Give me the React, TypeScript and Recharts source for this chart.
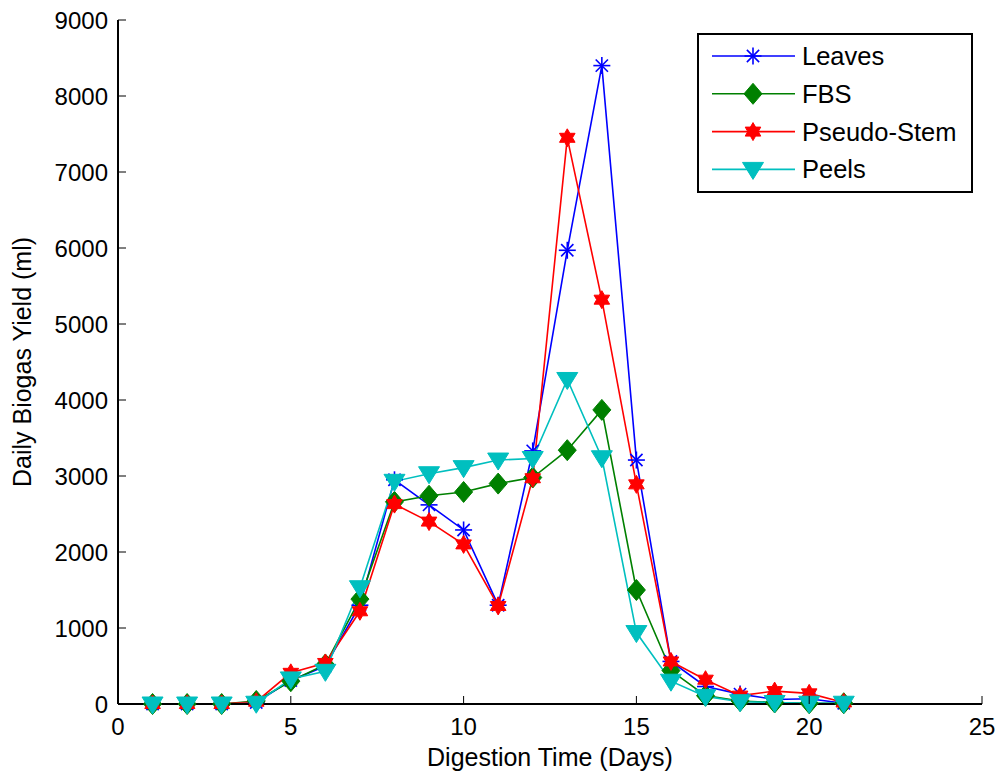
import React from "react";
import { LineChart, Line, XAxis, YAxis, Legend } from "recharts";

// Daily biogas yield (ml) per substrate over the digestion period
const days = [1, 2, 3, 4, 5, 6, 7, 8, 9, 10, 11, 12, 13, 14, 15, 16, 17, 18, 19, 20, 21];
const leaves = [0, 0, 0, 20, 310, 500, 1300, 2950, 2620, 2290, 1300, 3330, 5970, 8400, 3210, 560, 230, 130, 60, 70, 10];
const fbs = [0, 0, 0, 40, 300, 520, 1380, 2660, 2740, 2790, 2900, 2980, 3340, 3870, 1500, 440, 110, 40, 20, 10, 10];
const pseudoStem = [0, 0, 0, 30, 410, 540, 1220, 2630, 2400, 2100, 1290, 2970, 7450, 5320, 2890, 560, 320, 110, 170, 140, 20];
const peels = [0, 0, 0, 10, 330, 430, 1530, 2930, 3030, 3110, 3210, 3230, 4270, 3240, 940, 300, 100, 30, 20, 10, 10];

const xTicks = [0, 5, 10, 15, 20, 25];
const yTicks = [0, 1000, 2000, 3000, 4000, 5000, 6000, 7000, 8000, 9000];

const data = days.map((d, i) => ({
  day: d,
  leaves: leaves[i],
  fbs: fbs[i],
  pseudoStem: pseudoStem[i],
  peels: peels[i],
}));

const FONT = "'Liberation Sans', Arial, sans-serif";
const BLUE = "#0000ff";
const GREEN = "#008000";
const RED = "#ff0000";
const CYAN = "#00bfbf";

type MarkerKind = "star" | "diamond" | "hexagram" | "triangle";

function Marker({ kind, cx, cy, color }: { kind: MarkerKind; cx: number; cy: number; color: string }) {
  if (kind === "star") {
    const r = 8.5;
    const d = r * 0.72;
    return (
      <g stroke={color} strokeWidth={1.6}>
        <line x1={cx - r} y1={cy} x2={cx + r} y2={cy} />
        <line x1={cx} y1={cy - r} x2={cx} y2={cy + r} />
        <line x1={cx - d} y1={cy - d} x2={cx + d} y2={cy + d} />
        <line x1={cx - d} y1={cy + d} x2={cx + d} y2={cy - d} />
      </g>
    );
  }
  if (kind === "diamond") {
    const w = 9;
    const h = 10.5;
    return (
      <polygon
        points={`${cx},${cy - h} ${cx + w},${cy} ${cx},${cy + h} ${cx - w},${cy}`}
        fill={color}
        stroke={color}
        strokeWidth={1}
      />
    );
  }
  if (kind === "hexagram") {
    const ro = 9;
    const ri = 5.2;
    const pts: string[] = [];
    for (let k = 0; k < 12; k++) {
      const a = (Math.PI / 6) * k - Math.PI / 2;
      const r = k % 2 === 0 ? ro : ri;
      pts.push(`${cx + r * Math.cos(a)},${cy + r * Math.sin(a)}`);
    }
    return <polygon points={pts.join(" ")} fill={color} stroke={color} strokeWidth={1} />;
  }
  const w = 10.5;
  return (
    <polygon
      points={`${cx - w},${cy - 7} ${cx + w},${cy - 7} ${cx},${cy + 10}`}
      fill={color}
      stroke={color}
      strokeWidth={1}
    />
  );
}

const makeDot = (kind: MarkerKind, color: string) => (props: any) => {
  const { cx, cy, index } = props;
  if (cx == null || cy == null) return <g key={`${kind}-${index}`} />;
  return (
    <g key={`${kind}-${index}`}>
      <Marker kind={kind} cx={cx} cy={cy} color={color} />
    </g>
  );
};

const seriesInfo: { key: string; name: string; color: string; kind: MarkerKind }[] = [
  { key: "leaves", name: "Leaves", color: BLUE, kind: "star" },
  { key: "fbs", name: "FBS", color: GREEN, kind: "diamond" },
  { key: "pseudoStem", name: "Pseudo-Stem", color: RED, kind: "hexagram" },
  { key: "peels", name: "Peels", color: CYAN, kind: "triangle" },
];

const XTickBottom = (props: any) => {
  const { x, y, payload } = props;
  return (
    <g>
      <line x1={x} x2={x} y1={y} y2={y - 8} stroke="#000" strokeWidth={1} />
      <text x={x} y={y + 31} textAnchor="middle" fontSize={24} fontFamily={FONT} fill="#000">
        {payload.value}
      </text>
    </g>
  );
};

const XTickTop = (props: any) => {
  const { x, y } = props;
  return <line x1={x} x2={x} y1={y} y2={y + 8} stroke="#000" strokeWidth={1} />;
};

const YTickLeft = (props: any) => {
  const { x, y, payload } = props;
  return (
    <g>
      <line x1={x} x2={x + 8} y1={y} y2={y} stroke="#000" strokeWidth={1} />
      <text x={x - 10} y={y + 8.5} textAnchor="end" fontSize={24} fontFamily={FONT} fill="#000">
        {payload.value}
      </text>
    </g>
  );
};

const YTickRight = (props: any) => {
  const { x, y } = props;
  return <line x1={x} x2={x - 8} y1={y} y2={y} stroke="#000" strokeWidth={1} />;
};

const LegendBox = () => (
  <svg width={276} height={160} style={{ display: "block" }}>
    <rect x={1} y={1} width={274} height={158} fill="#fff" stroke="#000" strokeWidth={2} />
    {seriesInfo.map((s, i) => {
      const cy = 23 + i * 37.8;
      return (
        <g key={s.key}>
          <line x1={15} x2={98} y1={cy} y2={cy} stroke={s.color} strokeWidth={1.6} />
          <Marker kind={s.kind} cx={56} cy={cy} color={s.color} />
          <text x={105} y={cy + 9} fontSize={25.5} fontFamily={FONT} fill="#000">
            {s.name}
          </text>
        </g>
      );
    })}
  </svg>
);

export default function App() {
  return (
    <div style={{ position: "absolute", left: 0, top: 0, width: 999, height: 774, background: "#fff" }}>
      <LineChart
        width={999}
        height={774}
        data={data}
        margin={{ top: 20, right: 17, bottom: 30, left: 58 }}
      >
        <XAxis
          xAxisId="bottom"
          dataKey="day"
          type="number"
          domain={[0, 25]}
          ticks={xTicks}
          interval={0}
          tickSize={0}
          tickMargin={0}
          height={40}
          axisLine={{ stroke: "#000", strokeWidth: 2 }}
          tickLine={false}
          tick={<XTickBottom />}
          label={{
            value: "Digestion Time (Days)",
            position: "insideBottom",
            offset: -22,
            style: { fontSize: 25, fontFamily: FONT, fill: "#000" },
          }}
        />
        <XAxis
          xAxisId="top"
          orientation="top"
          dataKey="day"
          type="number"
          domain={[0, 25]}
          ticks={xTicks}
          interval={0}
          tickSize={0}
          tickMargin={0}
          height={0}
          axisLine={{ stroke: "#000", strokeWidth: 2 }}
          tickLine={false}
          tick={<XTickTop />}
        />
        <YAxis
          yAxisId="left"
          type="number"
          domain={[0, 9000]}
          ticks={yTicks}
          interval={0}
          tickSize={0}
          tickMargin={0}
          width={60}
          axisLine={{ stroke: "#000", strokeWidth: 2 }}
          tickLine={false}
          tick={<YTickLeft />}
          label={{
            value: "Daily Biogas Yield (ml)",
            angle: -90,
            position: "insideLeft",
            offset: -36,
            style: { textAnchor: "middle", fontSize: 25, fontFamily: FONT, fill: "#000" },
          }}
        />
        <YAxis
          yAxisId="right"
          orientation="right"
          type="number"
          domain={[0, 9000]}
          ticks={yTicks}
          interval={0}
          tickSize={0}
          tickMargin={0}
          width={0}
          axisLine={{ stroke: "#000", strokeWidth: 2 }}
          tickLine={false}
          tick={<YTickRight />}
        />
        {seriesInfo.map((s) => (
          <Line
            key={s.key}
            xAxisId="bottom"
            yAxisId="left"
            type="linear"
            dataKey={s.key}
            name={s.name}
            stroke={s.color}
            strokeWidth={1.6}
            dot={makeDot(s.kind, s.color)}
            activeDot={false}
            isAnimationActive={false}
          />
        ))}
        <Legend
          layout="horizontal"
          verticalAlign="middle"
          align="center"
          content={<LegendBox />}
          wrapperStyle={{ position: "absolute", left: 697, top: 33, width: 276, height: 160 }}
        />
      </LineChart>
    </div>
  );
}
